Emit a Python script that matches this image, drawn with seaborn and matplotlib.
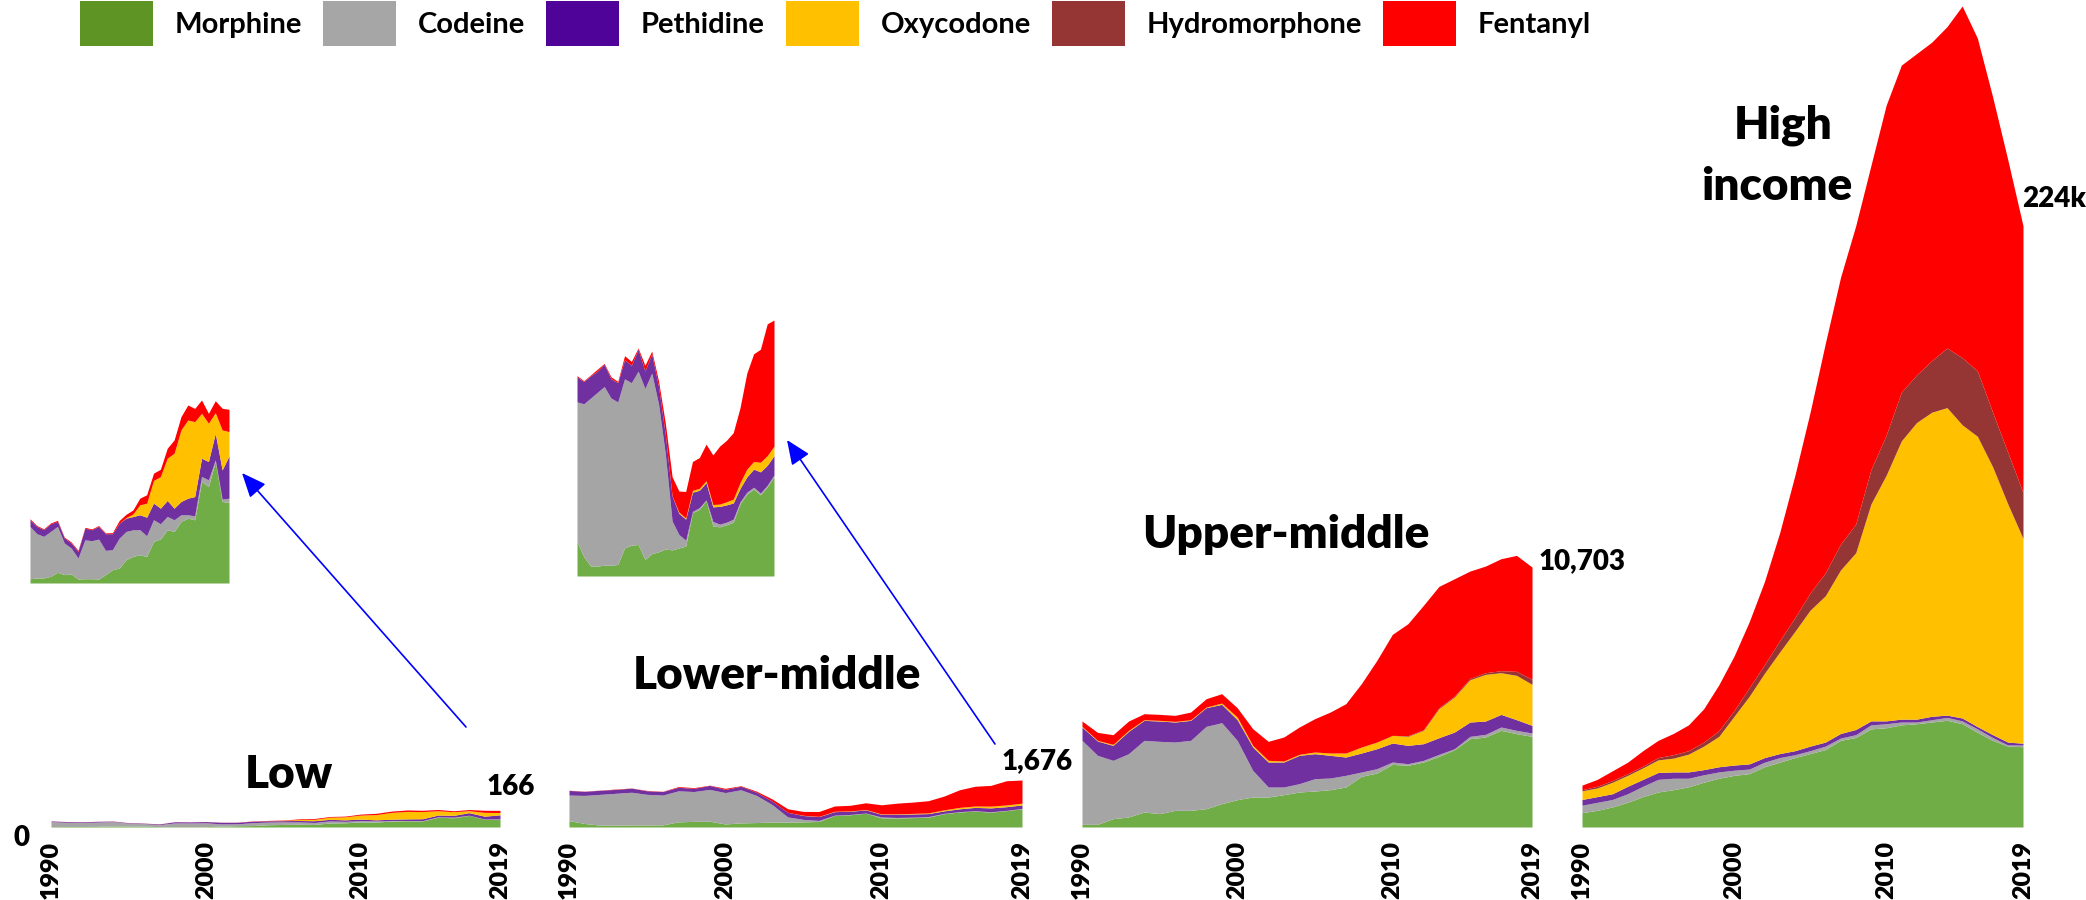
import matplotlib
matplotlib.use("Agg")
import pandas as pd
import matplotlib.pyplot as plt
from matplotlib.patches import Patch, FancyArrowPatch
import seaborn as sns

# ── Data ──────────────────────────────────────────────────────────────────────
YEARS = list(range(1990, 2020))
DRUGS = ["Morphine", "Codeine", "Pethidine", "Oxycodone", "Hydromorphone", "Fentanyl"]
FILL_COLORS = ["#70AD47", "#A5A5A5", "#7030A0", "#FFC000", "#963634", "#FF0000"]
LEGEND_COLORS = ["#5E9424", "#A6A6A6", "#4F0399", "#FFC000", "#963634", "#FF0000"]
TICK_YEARS = [1990, 2000, 2010, 2019]

LOW_MORPHINE = [4.1, 4.8, 4.8, 6.4, 10.2, 8.0, 8.6, 3.8, 4.1, 4.1, 3.8, 8.0, 12.7, 14.3, 22.3,
                25.4, 27.0, 25.4, 39.8, 42.0, 50.9, 49.3, 58.8, 62.0, 60.4, 97.0, 92.2, 116.1, 77.9, 77.0]
LOW_CODEINE = [49.9, 42.3, 39.8, 42.9, 43.9, 30.2, 24.8, 20.0, 37.2, 36.3, 38.2, 23.2, 19.1, 28.6, 27.0,
               25.4, 23.9, 19.7, 20.7, 14.6, 12.7, 11.1, 6.4, 3.2, 3.8, 4.8, 6.4, 1.6, 2.2, 4.1]
LOW_PETHIDINE = [6.4, 7.0, 6.4, 7.3, 4.8, 4.8, 4.8, 6.4, 11.1, 10.5, 12.1, 15.9, 15.3, 14.3, 12.7,
                 12.7, 14.3, 17.8, 15.9, 14.9, 15.3, 11.1, 12.7, 15.9, 18.4, 17.5, 17.5, 25.4, 28.0, 40.4]
LOW_OXYCODONE = [0, 0, 0, 0, 0, 0, 0, 0, 0, 0, 0, 0, 0, 0, 0.5,
                 2.5, 9.5, 13.4, 21.6, 30.2, 40.4, 52.5, 68.4, 74.7, 71.6, 42.9, 36.6, 19.7, 38.2, 23.2]
LOW_HYDROMORPHONE = [0] * 30
LOW_FENTANYL = [1.0, 0.8, 0.8, 0.8, 1.0, 0.8, 1.0, 1.0, 0.8, 0.8, 0.8, 0.8, 1.0, 2.5, 3.2,
                3.8, 6.4, 8.0, 7.0, 7.0, 9.5, 12.7, 12.7, 14.3, 12.7, 12.7, 9.5, 11.4, 20.7, 21.3]

LM_MORPHINE = [226.5, 125.9, 65.4, 65.4, 70.5, 70.5, 75.5, 183.7, 201.4, 206.4, 108.2, 146.0, 158.6, 176.2, 171.2,
               183.7, 196.3, 415.3, 435.4, 493.3, 327.2, 322.2, 334.8, 352.4, 473.2, 536.1, 568.8, 531.1, 583.9, 649.4]
LM_CODEINE = [913.7, 1001.8, 1099.9, 1137.7, 1170.4, 1094.9, 1064.7, 1107.5, 1064.7, 1135.2, 1120.1, 1183.0, 969.0, 624.2, 188.8,
              88.1, 37.8, 7.6, 12.6, 5.0, 30.2, 17.6, 17.6, 20.1, 12.6, 12.6, 12.6, 12.6, 10.1, 12.6]
LM_PETHIDINE = [163.6, 146.0, 146.0, 138.4, 146.0, 125.9, 125.9, 125.9, 113.3, 143.5, 113.3, 125.9, 113.3, 125.9, 163.6,
                138.4, 138.4, 125.9, 113.3, 113.3, 95.6, 115.8, 113.3, 105.7, 88.1, 100.7, 118.3, 138.4, 130.9, 125.9]
LM_OXYCODONE = [0.5, 0.5, 0.5, 0.5, 0.5, 0.5, 0.5, 0.5, 0.5, 0.5, 0.5, 0.5, 0.5, 0.5, 0.5,
                7.6, 7.6, 12.6, 12.6, 12.6, 15.1, 15.1, 20.1, 25.2, 37.8, 50.3, 50.3, 62.9, 62.9, 62.9]
LM_HYDROMORPHONE = [0] * 30
LM_FENTANYL = [7.6, 5.0, 5.0, 12.6, 5.0, 12.6, 7.6, 25.2, 25.2, 7.6, 37.8, 17.6, 37.8, 75.5, 125.9,
               138.4, 173.7, 188.8, 201.4, 239.1, 324.7, 380.1, 402.7, 435.4, 490.8, 629.3, 704.8, 740.0, 863.3, 825.6]

UM_MORPHINE = [110, 110, 343, 412, 617, 549, 686, 686, 755, 960, 1125, 1235, 1235, 1331, 1441,
               1482, 1537, 1646, 2085, 2223, 2579, 2538, 2675, 2909, 3183, 3636, 3704, 3979, 3842, 3732]
UM_CODEINE = [3457, 2840, 2401, 2607, 2950, 2977, 2813, 2881, 3389, 3334, 2442, 1098, 412, 316, 343,
              508, 480, 480, 178, 178, 96, 69, 69, 82, 41, 96, 110, 137, 137, 137]
UM_PETHIDINE = [549, 590, 617, 919, 823, 837, 823, 823, 768, 755, 851, 960, 1029, 1029, 1166,
                1029, 933, 755, 782, 823, 782, 755, 686, 686, 686, 590, 549, 521, 439, 316]
UM_OXYCODONE = [27, 27, 41, 41, 27, 27, 27, 27, 27, 55, 110, 69, 69, 41, 41,
                69, 96, 165, 247, 274, 316, 370, 549, 1194, 1441, 1742, 1921, 1715, 1825, 1688]
UM_HYDROMORPHONE = [0, 0, 0, 0, 0, 0, 0, 0, 0, 0, 0, 0, 0, 0, 0,
                    0, 0, 0, 0, 0, 0, 27, 27, 41, 41, 55, 69, 82, 165, 206]
UM_FENTANYL = [220, 329, 398, 384, 247, 247, 247, 316, 343, 384, 384, 686, 782, 988, 1125,
               1372, 1688, 2031, 2607, 3361, 4157, 4610, 5118, 4994, 4829, 4418, 4390, 4610, 4775, 4624]

HIGH_MORPHINE = [5343, 6197, 7480, 9189, 11326, 13036, 13891, 14959, 16669, 18165, 19233, 19874, 22439, 24148, 25858,
                 27354, 28850, 32269, 33337, 36543, 36970, 38039, 38466, 39107, 39748, 38466, 35261, 32269, 30132, 29918]
HIGH_CODEINE = [2778, 2992, 2778, 3206, 3847, 4701, 4274, 3206, 2778, 2351, 1923, 1710, 1710, 1710, 1069,
                1069, 1282, 855, 1069, 1496, 1496, 1069, 641, 855, 1069, 1069, 1282, 1069, 427, 641]
HIGH_PETHIDINE = [2137, 2137, 2137, 2778, 2564, 2564, 2351, 2351, 1923, 1923, 1923, 1923, 1710, 1496, 1496,
                  1710, 1496, 1710, 1923, 1496, 1069, 1069, 1069, 1282, 855, 1069, 855, 1069, 1069, 641]
HIGH_OXYCODONE = [3206, 3206, 4274, 4060, 4274, 4701, 5129, 6625, 8762, 11326, 18165, 25217, 31414, 37825, 44450,
                  50647, 54494, 60905, 65820, 80779, 91464, 103645, 110483, 113261, 114543, 109201, 108132, 99798, 88686, 76291]
HIGH_HYDROMORPHONE = [427, 641, 641, 641, 641, 855, 1282, 1282, 1496, 2137, 2137, 3206, 3206, 4274, 5129,
                      6411, 8548, 9617, 10685, 12822, 14959, 18165, 17737, 19233, 22225, 25003, 24362, 20302, 19233, 17096]
HIGH_FENTANYL = [1710, 2564, 3633, 4274, 5770, 6411, 7907, 9617, 12395, 17096, 20302, 24576, 30987, 40176, 52998,
                 67316, 85480, 99371, 111124, 113261, 122878, 121809, 119672, 118604, 119672, 130998, 123946, 117535, 108987, 99371]


def make_frame(*cols):
    return pd.DataFrame(dict(zip(DRUGS, cols)), index=YEARS)


low = make_frame(LOW_MORPHINE, LOW_CODEINE, LOW_PETHIDINE, LOW_OXYCODONE, LOW_HYDROMORPHONE, LOW_FENTANYL)
lower_mid = make_frame(LM_MORPHINE, LM_CODEINE, LM_PETHIDINE, LM_OXYCODONE, LM_HYDROMORPHONE, LM_FENTANYL)
upper_mid = make_frame(UM_MORPHINE, UM_CODEINE, UM_PETHIDINE, UM_OXYCODONE, UM_HYDROMORPHONE, UM_FENTANYL)
high = make_frame(HIGH_MORPHINE, HIGH_CODEINE, HIGH_PETHIDINE, HIGH_OXYCODONE, HIGH_HYDROMORPHONE, HIGH_FENTANYL)

# ── Style ─────────────────────────────────────────────────────────────────────
sns.set_theme(style="white")
plt.rcParams["font.family"] = ["Lato", "DejaVu Sans"]
plt.rcParams["text.color"] = "black"
plt.rcParams["xtick.color"] = "black"

W, H = 2086, 900
fig = plt.figure(figsize=(W / 100, H / 100), dpi=100)


def box(x0, y0, x1, y1):
    """pixel box (top-left origin) -> figure rect"""
    return [x0 / W, 1 - y1 / H, (x1 - x0) / W, (y1 - y0) / H]


def fx(x): return x / W
def fy(y): return 1 - y / H


def stack(ax, df, ymax):
    ax.stackplot(df.index, df.T.values, colors=FILL_COLORS, linewidth=0)
    ax.set_xlim(YEARS[0], YEARS[-1])
    ax.set_ylim(0, ymax)
    sns.despine(ax=ax, left=True, bottom=True)
    ax.set_yticks([])


# ── Main panels ───────────────────────────────────────────────────────────────
panels = [
    (low, (51, 6, 500, 827), 8200),
    (lower_mid, (569, 6, 1022, 827), 29300),
    (upper_mid, (1082, 6, 1532, 827), 33800),
    (high, (1582, 6, 2023, 827), high.sum(axis=1).max()),
]
for df, rect, ymax in panels:
    ax = fig.add_axes(box(*rect))
    stack(ax, df, ymax)
    ax.set_xticks(TICK_YEARS)
    ax.set_xticklabels([str(y) for y in TICK_YEARS], rotation=90,
                       fontweight="heavy", fontsize=18, color="black")
    ax.tick_params(axis="x", length=0, pad=10)

# ── Zoomed insets ─────────────────────────────────────────────────────────────
for df, rect in [(low, (30, 400, 229, 583)), (lower_mid, (577, 320, 774, 576))]:
    ax = fig.add_axes(box(*rect))
    stack(ax, df, df.sum(axis=1).max())
    ax.axis("off")

for tail, head in [((466, 727), (242, 473)), ((995, 744), (787, 440))]:
    fig.add_artist(FancyArrowPatch(
        (fx(tail[0]), fy(tail[1])), (fx(head[0]), fy(head[1])),
        transform=fig.transFigure, arrowstyle="-|>,head_length=0.75,head_width=0.32",
        mutation_scale=20, color="#0000FF", lw=1.2, shrinkA=0, shrinkB=0))

# ── Labels ────────────────────────────────────────────────────────────────────
for txt, x, y in [("Low", 289, 788), ("Lower-middle", 777, 689), ("Upper-middle", 1286, 548),
                  ("High", 1783, 138), ("income", 1777, 200)]:
    fig.text(fx(x), fy(y), txt, ha="center", va="baseline", fontsize=33,
             fontweight="heavy", color="black")

for txt, x, y in [("166", 487, 795), ("0", 13, 846), ("1,676", 1002, 769),
                  ("10,703", 1539, 569), ("224k", 2022, 207)]:
    fig.text(fx(x), fy(y), txt, ha="left", va="baseline", fontsize=20,
             fontweight="heavy", color="black")

handles = [Patch(facecolor=c, edgecolor="none") for c in LEGEND_COLORS]
leg = fig.legend(handles, DRUGS, loc="upper left", bbox_to_anchor=(fx(80), fy(1)), ncol=6,
                 frameon=False, prop={"size": 21, "weight": "bold"},
                 handlelength=2.5, handleheight=2.0, handletextpad=0.75, columnspacing=0.72,
                 borderpad=0, borderaxespad=0)
for t in leg.get_texts():
    t.set_color("black")

fig.savefig("out.png", dpi=100)
